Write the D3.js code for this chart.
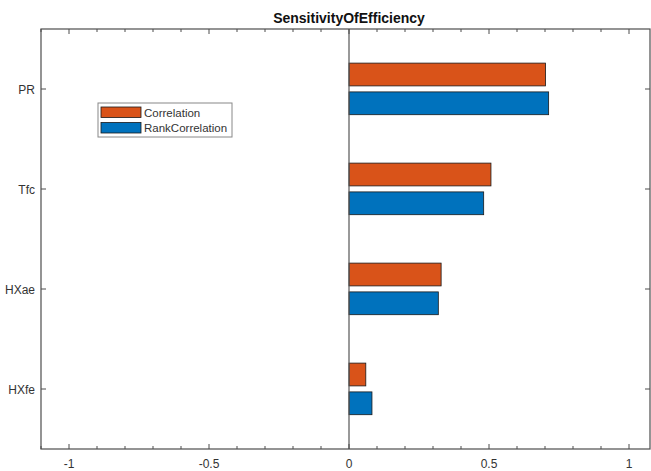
<!DOCTYPE html>
<html><head><meta charset="utf-8">
<script src="https://cdn.jsdelivr.net/npm/d3@7"></script>
<style>body{margin:0;background:#fff;} text{font-family:"Liberation Sans",Arial,Helvetica,sans-serif;}</style>
</head><body>
<svg id="c" width="651" height="471"></svg>
<script>
const categories = ["PR", "Tfc", "HXae", "HXfe"];
const correlation = [0.702, 0.507, 0.329, 0.060];
const rankCorrelation = [0.713, 0.481, 0.319, 0.082];
const seriesNames = ["Correlation", "RankCorrelation"];
const seriesColors = ["#D95319", "#0072BD"];
const xTickLabels = [-1, -0.5, 0, 0.5, 1];
const title = "SensitivityOfEfficiency";

const svg = d3.select("#c");
const L = 41, R = 650, T = 29, B = 449;
const x = d3.scaleLinear().domain([-1.1, 1.075]).range([L, R]);
const n = categories.length;
const y = d3.scaleLinear().domain([0.4, n + 0.6]).range([B, T]);
const pos = i => n - i;
const axisColor = "#4d4d4d";
const textColor = "#333";

const series = [correlation, rankCorrelation];
const offsets = [0.145, -0.143];
const barH = 0.228;
series.forEach((vals, s) => {
  svg.append("g").selectAll("rect").data(vals).join("rect")
    .attr("x", d => x(Math.min(0, d)))
    .attr("width", d => Math.abs(x(d) - x(0)))
    .attr("y", (d, i) => y(pos(i) + offsets[s] + barH / 2))
    .attr("height", y(0) - y(barH))
    .attr("fill", seriesColors[s])
    .attr("stroke", "#1a1a1a")
    .attr("stroke-width", 0.8);
});

svg.append("line").attr("x1", x(0)).attr("x2", x(0)).attr("y1", T).attr("y2", B)
  .attr("stroke", "#555").attr("stroke-width", 1.2);

const minor = d3.range(-11, 11).map(k => k / 10).filter(v => v >= -1.1 && v <= 1.075);
function xTicks(yy, dir) {
  const g = svg.append("g");
  minor.forEach(v => {
    const major = Math.abs(v * 2 - Math.round(v * 2)) < 1e-9;
    g.append("line").attr("x1", x(v)).attr("x2", x(v))
      .attr("y1", yy).attr("y2", yy + dir * (major ? 5 : 3))
      .attr("stroke", axisColor).attr("stroke-width", 1);
  });
}
xTicks(B, -1);
xTicks(T, 1);
categories.forEach((c, i) => {
  const yy = y(pos(i));
  svg.append("line").attr("x1", L).attr("x2", L + 5).attr("y1", yy).attr("y2", yy)
    .attr("stroke", axisColor);
  svg.append("line").attr("x1", R - 5).attr("x2", R).attr("y1", yy).attr("y2", yy)
    .attr("stroke", axisColor);
  svg.append("text").attr("x", L - 6).attr("y", yy + 1).attr("dy", "0.35em")
    .attr("text-anchor", "end").attr("font-size", 12).attr("fill", textColor).text(c);
});
svg.append("rect").attr("x", L).attr("y", T).attr("width", R - L).attr("height", B - T)
  .attr("fill", "none").attr("stroke", axisColor).attr("stroke-width", 1.2);

xTickLabels.forEach(v => {
  svg.append("text").attr("x", x(v)).attr("y", B + 19).attr("text-anchor", "middle")
    .attr("font-size", 12).attr("fill", textColor).text(v);
});

svg.append("text").attr("x", (x(-1.1) + x(1.1)) / 2).attr("y", 23).attr("text-anchor", "middle")
  .attr("font-size", 14).attr("font-weight", "bold").attr("fill", "#111").text(title);

const lg = svg.append("g").attr("transform", "translate(98,103)");
lg.append("rect").attr("width", 134).attr("height", 34).attr("fill", "#fff")
  .attr("stroke", "#888").attr("stroke-width", 1);
seriesNames.forEach((nm, s) => {
  lg.append("rect").attr("x", 3).attr("y", 4 + s * 15.5).attr("width", 40).attr("height", 10.5)
    .attr("fill", seriesColors[s]).attr("stroke", "#1a1a1a").attr("stroke-width", 0.8);
  lg.append("text").attr("x", 46).attr("y", 9.5 + s * 15.5).attr("dy", "0.35em")
    .attr("font-size", 11.5).attr("fill", textColor).text(nm);
});
</script>
</body></html>
